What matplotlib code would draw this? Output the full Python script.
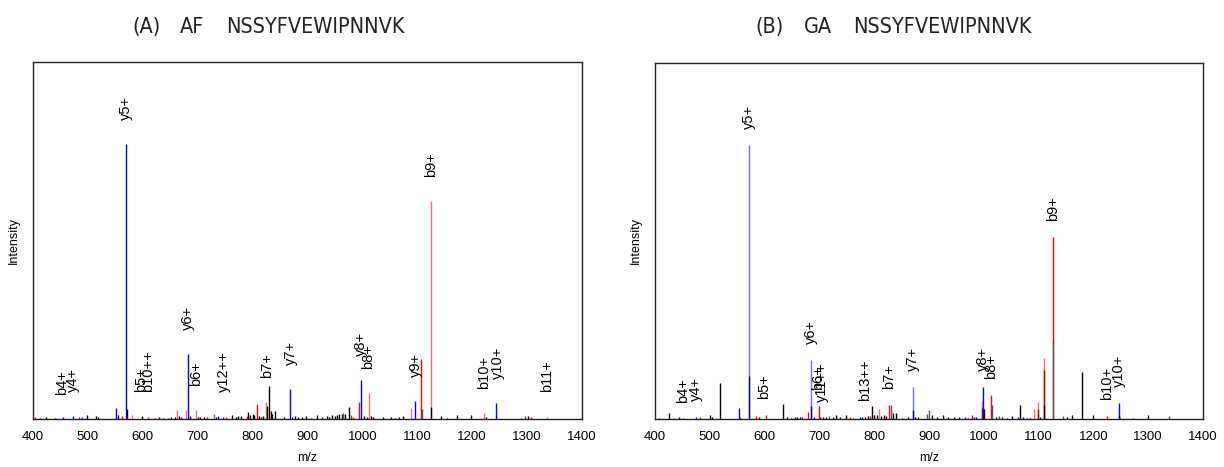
import matplotlib
matplotlib.use("Agg")
import matplotlib.pyplot as plt
from matplotlib import font_manager as fm

# ---------------- data: panel A ----------------
a_mz = [404, 412, 423, 440, 455, 473.5, 484, 489, 499, 514, 518, 552, 555, 562, 570, 572, 580,
        598, 610, 622, 630, 637, 645, 652, 658, 662, 666, 670, 679, 683, 686, 697, 700, 705,
        712, 717, 729, 734, 737.6, 746.6, 751.5, 763, 770, 774, 778, 789, 792, 796, 800, 803,
        808.6, 812, 815, 819.7, 825, 827, 829, 833, 836, 841, 858, 868.7, 871, 877, 882, 890,
        898, 906, 918, 927, 935, 940, 945, 950, 954, 958, 962, 965, 968, 976, 979, 983, 994,
        997.5, 1003, 1008, 1012, 1016, 1020, 1038, 1053, 1060, 1066, 1074, 1088, 1096.4, 1106,
        1108.6, 1124.4, 1125.6, 1142.6, 1153.5, 1171.7, 1197.8, 1221.5, 1225, 1244, 1288, 1297,
        1301, 1307, 1335.7]
a_int = [0.6, 0.5, 0.8, 0.5, 0.7, 1.2, 0.7, 0.8, 1.6, 1.0, 0.8, 4.0, 1.5, 1.2, 100, 3.6, 1.5,
         1.1, 0.6, 0.5, 0.6, 0.5, 0.5, 0.8, 0.9, 3.3, 1.2, 0.7, 3.3, 23.7, 1.1, 3.3, 0.9, 0.8,
         0.7, 0.6, 1.8, 0.8, 1.0, 0.8, 0.6, 1.5, 0.7, 1.0, 1.2, 1.2, 2.4, 1.5, 1.7, 1.3,
         5.3, 1.1, 0.8, 1.0, 6.1, 4.6, 12.1, 2.8, 1.8, 2.8, 0.6, 10.9, 0.9, 1.0, 0.7, 0.8,
         1.0, 0.5, 1.3, 0.6, 1.0, 0.9, 1.3, 1.2, 1.5, 1.8, 1.9, 2.2, 2.0, 4.2, 1.5, 0.8, 6.2,
         14.1, 1.0, 0.9, 9.5, 1.0, 0.7, 0.8, 0.8, 0.5, 0.7, 1.0, 4.0, 6.7, 21.8,
         3.5, 79.5, 4.5, 1.2, 0.5, 1.4, 1.4, 2.2, 0.6, 5.8, 0.5, 1.2,
         1.0, 0.6, 0.9]
a_col = ['r', 'k', 'k', 'k', 'b', 'b', 'r', 'b', 'k', 'k', 'k', 'b', 'k', 'r', 'b', 'k', 'lr',
         'k', 'r', 'k', 'k', 'k', 'k', 'k', 'k', 'lr', 'k', 'b', 'lr', 'b', 'k', 'lr', 'k', 'k',
         'k', 'r', 'lb', 'k', 'b', 'b', 'r', 'k', 'k', 'k', 'k', 'r', 'k', 'k', 'k', 'k',
         'r', 'k', 'k', 'k', 'lr', 'k', 'k', 'k', 'k', 'k', 'k', 'b', 'k', 'k', 'k', 'k',
         'k', 'k', 'k', 'k', 'k', 'k', 'k', 'k', 'k', 'k', 'k', 'g', 'k', 'k', 'g', 'r', 'r',
         'b', 'k', 'k', 'lr', 'k', 'k', 'k', 'k', 'k', 'k', 'k', 'lr', 'b', 'r',
         'g', 'lr', 'k', 'k', 'k', 'k', 'k', 'lr', 'k', 'b', 'k', 'g',
         'k', 'r', 'lr']

a_lab = ['b4+', 'y4+', 'y5+', 'b5+', 'b10++', 'y6+', 'b6+', 'y12++', 'b7+', 'y7+',
         'y8+', 'b8+', 'y9+', 'b9+', 'b10+', 'y10+', 'b11+']
a_lab_mz = [452, 473.5, 570, 596, 610, 683, 697, 748, 826.5, 869, 997.5, 1011, 1097.5,
            1124.4, 1221.5, 1246, 1335.7]
a_lab_int = [0, 1.2, 100, 1.0, 1.0, 23.7, 3.3, 1.0, 6.1, 10.9, 14.1, 9.5, 6.7, 79.5, 2.2, 5.8, 1.0]

# ---------------- data: panel B ----------------
b_mz = [408, 425, 434, 443, 452, 474.7, 482.6, 499.6, 504, 519, 553, 555.7, 571.4, 571.4,
        584.7, 590, 603, 633.4, 640, 648, 655, 660, 665, 668, 680, 685, 685, 690, 698.4, 702,
        706, 712, 718, 724, 730, 737, 748, 756, 762, 774, 778, 783, 788, 792.7, 795.8, 800,
        805, 808.8, 812, 818, 822, 827.4, 830.4, 835, 840, 850, 862, 871, 871, 874, 880, 896,
        900, 905, 915, 925, 935, 945, 955, 966, 972, 978, 982, 985, 996.4, 996.4, 999.3, 1001,
        1013.4, 1015, 1022, 1028, 1033, 1042, 1051, 1063, 1066.8, 1071, 1078, 1085, 1091.8,
        1098.5, 1098.5, 1103, 1109.5, 1109.5, 1110.6, 1127, 1127, 1144, 1151, 1161.4, 1179.8,
        1200, 1224.5, 1246.3, 1246.3, 1248.7, 1272, 1300, 1338]
b_int = [0.5, 2.2, 0.5, 0.6, 0.4, 0.8, 0.6, 1.6, 0.7, 13.3, 4.0, 0.8, 100, 15.7,
         1.0, 0.6, 1.6, 5.6, 0.6, 0.5, 0.7, 0.8, 0.6, 0.9, 2.4, 21.6, 4.6, 0.8, 4.6, 0.7,
         0.6, 0.9, 1.0, 0.8, 1.6, 0.7, 1.6, 0.6, 0.5, 0.8, 0.7, 0.9, 1.2, 1.1, 4.8, 1.5,
         1.6, 3.6, 1.0, 1.4, 1.2, 5.2, 5.1, 2.2, 2.2, 0.5, 0.6, 11.6, 3.2, 0.6, 0.7, 2.0,
         3.2, 1.3, 0.6, 1.3, 0.6, 0.8, 0.7, 0.6, 0.5, 1.5, 0.8, 0.7, 6.7, 4.0, 11.6, 3.6,
         8.8, 5.2, 0.6, 1.2, 0.7, 0.5, 1.2, 0.6, 5.2, 0.6, 0.5, 0.5, 3.8,
         6.1, 3.6, 0.8, 22.2, 17.9, 5.2, 66.3, 29.3, 1.2, 0.8, 1.3, 17.0,
         1.4, 1.2, 5.8, 1.5, 0.5, 0.4, 1.4, 1.1]
b_col = ['k', 'k', 'r', 'k', 'r', 'b', 'r', 'k', 'k', 'k', 'b', 'r', 'lb', 'nb',
         'r', 'k', 'r', 'k', 'k', 'k', 'k', 'k', 'k', 'b', 'r', 'lb', 'nb', 'b', 'r', 'k',
         'k', 'k', 'g', 'k', 'k', 'k', 'k', 'r', 'k', 'b', 'k', 'k', 'k', 'r', 'k', 'k',
         'k', 'lr', 'k', 'k', 'k', 'r', 'g', 'k', 'k', 'k', 'k', 'lb', 'nb', 'k', 'k', 'g',
         'g', 'k', 'k', 'k', 'k', 'k', 'k', 'b', 'k', 'r', 'b', 'b', 'lr', 'dr', 'b', 'k',
         'r', 'g', 'k', 'g', 'k', 'k', 'k', 'b', 'k', 'k', 'k', 'k', 'lr',
         'lr', 'dr', 'k', 'lr', 'dr', 'k', 'r', 'g', 'g', 'k', 'k', 'k',
         'k', 'r', 'b', 'nb', 'k', 'r', 'k', 'g']

b_lab = ['b4+', 'y4+', 'y5+', 'b5+', 'y6+', 'y11++', 'b6+', 'b13++', 'b7+', 'y7+',
         'y8+', 'b8+', 'b9+', 'b10+', 'y10+']
b_lab_mz = [451.6, 474.7, 571.4, 599, 685, 704.9, 698.4, 783.4, 827.4, 871, 999.3, 1013.4,
            1127, 1224.5, 1246.3]
b_lab_int = [0, 0.8, 100, 1.6, 21.6, 0.3, 4.6, 0.8, 5.2, 11.6, 11.6, 8.8, 66.3, 1.2, 5.8]

title_parts = [['(A)', 'AF', 'NSSYFVEWIPNNVK'], ['(B)', 'GA', 'NSSYFVEWIPNNVK']]
xticks = [400, 500, 600, 700, 800, 900, 1000, 1100, 1200, 1300, 1400]

# ---------------- styling ----------------
COL = {'b': '#0000ff', 'lb': '#6e6eff', 'nb': '#000088', 'r': '#ff0000', 'lr': '#ff6a6a',
       'dr': '#aa0000', 'k': '#000000', 'g': '#555555'}

plt.rcParams['font.family'] = ['Liberation Sans', 'DejaVu Sans']

# pick a narrow face for the titles if one is installed
ttf = fm.fontManager.ttflist
title_kw = dict(family=['DejaVu Sans'])
if any(f.name == 'Liberation Sans Narrow' for f in ttf):
    title_kw = dict(family=['Liberation Sans Narrow', 'DejaVu Sans'])
elif any(f.name == 'DejaVu Sans' and 'Condensed' in f.fname for f in ttf):
    title_kw = dict(family=['DejaVu Sans'], fontstretch='condensed')
elif any(f.name == 'Open Sans' and f.stretch == 'condensed' for f in ttf):
    title_kw = dict(family=['Open Sans'], fontstretch='condensed')

W, H = 1224, 467
fig = plt.figure(figsize=(W / 100, H / 100), dpi=100)

panels = [
    (a_mz, a_int, a_col, a_lab, a_lab_mz, a_lab_int, (33, 62, 582, 419), 24, (132, 180, 226, 427)),
    (b_mz, b_int, b_col, b_lab, b_lab_mz, b_lab_int, (655, 63, 1203, 419), 16, (755, 804, 853, 1053)),
]

renderer = fig.canvas.get_renderer()
for i, (mz, inten, col, lab, lmz, lint, box, off, tpos) in enumerate(panels):
    x0, y0, x1, y1 = box
    ax = fig.add_axes([x0 / W, 1 - y1 / H, (x1 - x0) / W, (y1 - y0) / H])
    ax.vlines(mz, 0, inten, colors=[COL[c] for c in col], linewidth=1.0)
    for t, m, v in zip(lab, lmz, lint):
        ax.annotate(t, (m, v), xytext=(0, off * 0.72), textcoords='offset points',
                    rotation=90, ha='center', va='bottom', fontsize=10.5, zorder=5)
    ax.set_xlim(400, 1400)
    ax.set_ylim(0, 130)
    ax.set_xticks(xticks)
    ax.set_yticks([])
    ax.tick_params(axis='x', length=0, pad=9, labelsize=9.5)
    for s in ax.spines.values():
        s.set_linewidth(1.0)
        s.set_color('#222222')
    cx = (x0 + x1) / 2
    fig.text(cx / W, 1 - 458 / H, 'm/z', ha='center', va='center', fontsize=9)
    fig.text((x0 - 19) / W, 1 - ((y0 + y1) / 2) / H, 'Intensity', rotation=90,
             ha='center', va='center', fontsize=9)
    # title in three pieces; size fitted so the sequence spans its measured width
    word = fig.text(tpos[2] / W, 1 - 27 / H, title_parts[i][2], ha='left', va='center',
                    fontsize=15, color='#222222', **title_kw)
    wpx = word.get_window_extent(renderer).width
    fs = 15 * (tpos[3] - tpos[2]) / wpx
    fs = min(fs, 15.5)
    word.set_fontsize(fs)
    for part, px in zip(title_parts[i][:2], tpos[:2]):
        fig.text(px / W, 1 - 27 / H, part, ha='left', va='center', fontsize=fs,
                 color='#222222', **title_kw)

fig.savefig('out.png', dpi=100)
